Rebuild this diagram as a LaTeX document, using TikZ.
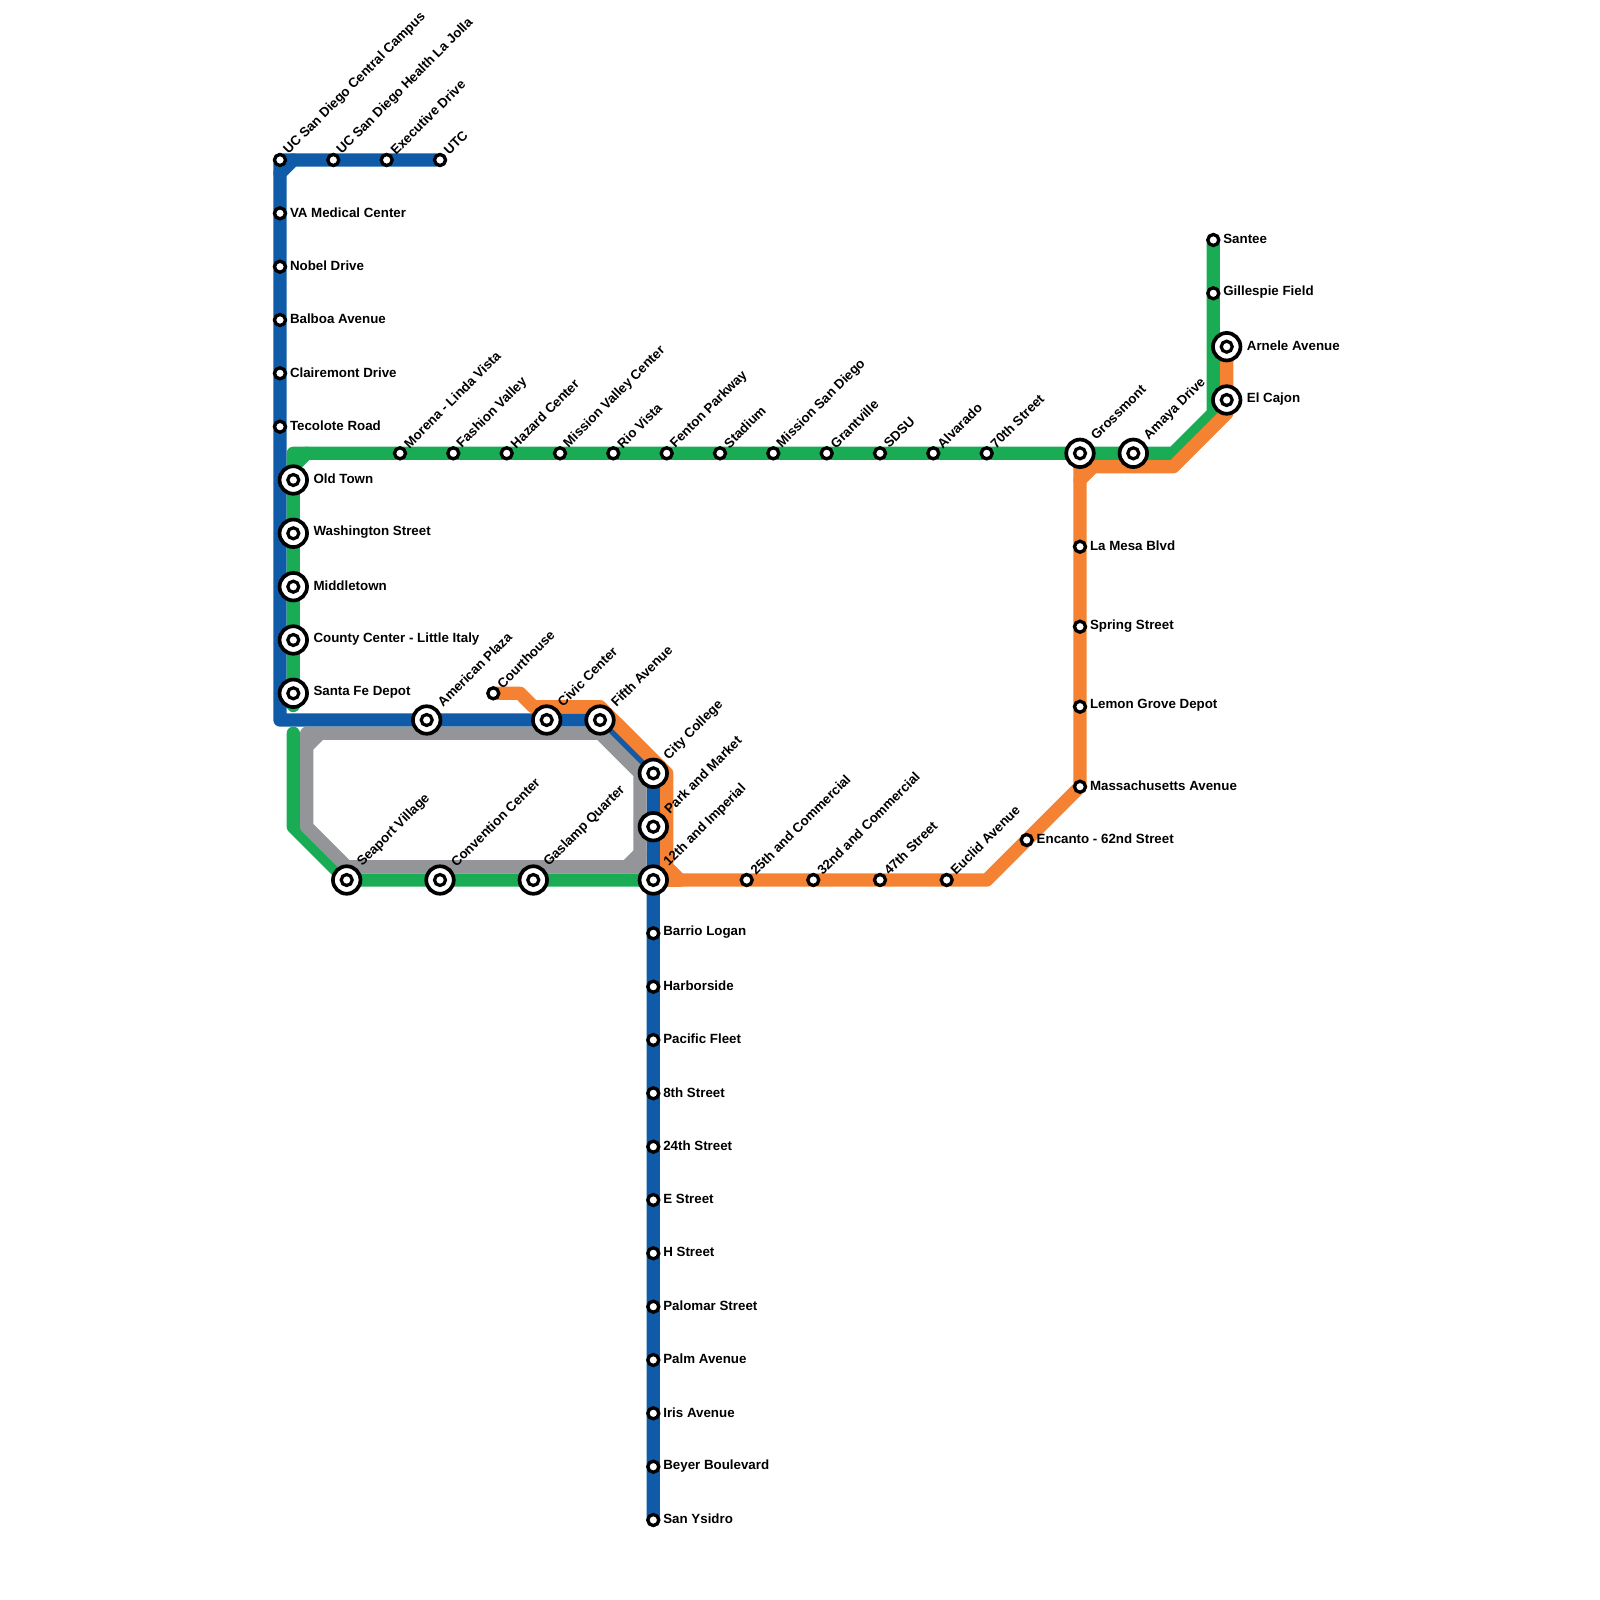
\documentclass[tikz,border=0pt]{standalone}
\usepackage{fontspec}
\setmainfont{Liberation Sans}
\usepackage{xcolor}
\usetikzlibrary{backgrounds}
\definecolor{MTS_Blue}{HTML}{0F5BA7}
\definecolor{MTS_Green}{HTML}{1AAC55}
\definecolor{MTS_Orange}{HTML}{F58233}
\definecolor{MTS_Grey}{HTML}{939598}
\tikzset{
    trackline/.style={line width=13.33pt, line cap=round, line join=round},
    smallstop/.style={circle, draw=black, fill=white, line width=3.3pt, minimum size=11pt, inner sep=0pt, outer sep=0pt},
    bigstop/.style={circle, draw=black, fill=white, line width=3.7pt, minimum size=27.5pt, inner sep=0pt, outer sep=0pt,
        path picture={\draw[line width=3.2pt] (path picture bounding box.center) circle (5.5pt);}},
    stoptext/.style={font=\bfseries\fontsize{13.33}{15}\selectfont, inner sep=0pt, text=black},
    sidetext/.style={stoptext, anchor=west, xshift=9.8pt, yshift=1pt},
    sidetextbig/.style={stoptext, anchor=west, xshift=20pt, yshift=1pt},
    uptext/.style={stoptext, anchor=west, xshift=6pt, yshift=7.5pt, rotate=45},
    uptextbig/.style={stoptext, anchor=west, xshift=13pt, yshift=15.5pt, rotate=45},
}
\begin{document}
\begin{tikzpicture}[x=1pt, y=-1pt]
    \useasboundingbox (0,0) rectangle (1600,1600);

    % North end of the blue line
    \node[smallstop] (ucsd) at (280,160) {};       \node[uptext] (ucsdt) at (ucsd) {UC San Diego Central Campus};
    \node[smallstop] (lajolla) at (333.3,160) {};  \node[uptext] (lajollat) at (lajolla) {UC San Diego Health La Jolla};
    \node[smallstop] (executive) at (386.7,160) {}; \node[uptext] (executivet) at (executive) {Executive Drive};
    \node[smallstop] (utc) at (440,160) {};        \node[uptext] (utct) at (utc) {UTC};
    \node[smallstop] (vamed) at (280,213.3) {};    \node[sidetext] (vamedt) at (vamed) {VA Medical Center};
    \node[smallstop] (nobel) at (280,266.7) {};    \node[sidetext] (nobelt) at (nobel) {Nobel Drive};
    \node[smallstop] (balboa) at (280,320) {};     \node[sidetext] (balboat) at (balboa) {Balboa Avenue};
    \node[smallstop] (clairemont) at (280,373.3) {}; \node[sidetext] (clairemontt) at (clairemont) {Clairemont Drive};
    \node[smallstop] (tecolote) at (280,426.7) {}; \node[sidetext] (tecolotet) at (tecolote) {Tecolote Road};

    % Old Town down to Santa Fe Depot
    \node[bigstop] (oldtown) at (293.3,480) {};    \node[sidetextbig] (oldtownt) at (oldtown) {Old Town};
    \node[bigstop] (washington) at (293.3,533.3) {}; \node[sidetextbig] (washingtont) at (washington) {Washington Street};
    \node[bigstop] (middletown) at (293.3,586.7) {}; \node[sidetextbig] (middletownt) at (middletown) {Middletown};
    \node[bigstop] (county) at (293.3,640) {};     \node[sidetextbig] (countyt) at (county) {County Center - Little Italy};
    \node[bigstop] (santafe) at (293.3,693.3) {};  \node[sidetextbig] (santafet) at (santafe) {Santa Fe Depot};

    % Mission Valley row
    \node[smallstop] (morena) at (400,453.3) {};   \node[uptext] (morenat) at (morena) {Morena - Linda Vista};
    \node[smallstop] (fashion) at (453.3,453.3) {}; \node[uptext] (fashiont) at (fashion) {Fashion Valley};
    \node[smallstop] (hazard) at (506.7,453.3) {}; \node[uptext] (hazardt) at (hazard) {Hazard Center};
    \node[smallstop] (mvcenter) at (560,453.3) {}; \node[uptext] (mvcentert) at (mvcenter) {Mission Valley Center};
    \node[smallstop] (riovista) at (613.3,453.3) {}; \node[uptext] (riovistat) at (riovista) {Rio Vista};
    \node[smallstop] (fenton) at (666.7,453.3) {}; \node[uptext] (fentont) at (fenton) {Fenton Parkway};
    \node[smallstop] (stadium) at (720,453.3) {};  \node[uptext] (stadiumt) at (stadium) {Stadium};
    \node[smallstop] (msd) at (773.3,453.3) {};    \node[uptext] (msdt) at (msd) {Mission San Diego};
    \node[smallstop] (grantville) at (826.7,453.3) {}; \node[uptext] (grantvillet) at (grantville) {Grantville};
    \node[smallstop] (sdsu) at (880,453.3) {};     \node[uptext] (sdsut) at (sdsu) {SDSU};
    \node[smallstop] (alvarado) at (933.3,453.3) {}; \node[uptext] (alvaradot) at (alvarado) {Alvarado};
    \node[smallstop] (seventieth) at (986.7,453.3) {}; \node[uptext] (seventietht) at (seventieth) {70th Street};
    \node[bigstop] (grossmont) at (1080,453.3) {}; \node[uptextbig] (grossmontt) at (grossmont) {Grossmont};
    \node[bigstop] (amaya) at (1133.3,453.3) {};   \node[uptextbig] (amayat) at (amaya) {Amaya Drive};

    % East end
    \node[smallstop] (santee) at (1213.3,240) {};  \node[sidetext] (santeet) at (santee) {Santee};
    \node[smallstop] (gillespie) at (1213.3,293.3) {}; \node[sidetext] (gillespiet) at (gillespie) {Gillespie Field};
    \node[bigstop] (arnele) at (1226.7,346.7) {};  \node[sidetextbig] (arnelet) at (arnele) {Arnele Avenue};
    \node[bigstop] (elcajon) at (1226.7,400) {};   \node[sidetextbig] (elcajont) at (elcajon) {El Cajon};

    % La Mesa branch
    \node[smallstop] (lamesa) at (1080,546.7) {};  \node[sidetext] (lamesat) at (lamesa) {La Mesa Blvd};
    \node[smallstop] (spring) at (1080,626.7) {};  \node[sidetext] (springt) at (spring) {Spring Street};
    \node[smallstop] (lemon) at (1080,706.7) {};   \node[sidetext] (lemont) at (lemon) {Lemon Grove Depot};
    \node[smallstop] (mass) at (1080,786.7) {};    \node[sidetext] (masst) at (mass) {Massachusetts Avenue};
    \node[smallstop] (encanto) at (1026.7,840) {}; \node[sidetext] (encantot) at (encanto) {Encanto - 62nd Street};

    % Downtown
    \node[bigstop] (america) at (426.7,720) {};    \node[uptextbig] (americat) at (america) {American Plaza};
    \node[smallstop] (courthouse) at (493.3,693.3) {}; \node[uptext] (courthouset) at (courthouse) {Courthouse};
    \node[bigstop] (civic) at (546.7,720) {};      \node[uptextbig] (civict) at (civic) {Civic Center};
    \node[bigstop] (fifth) at (600,720) {};        \node[uptextbig] (fiftht) at (fifth) {Fifth Avenue};
    \node[bigstop] (citycollege) at (653.3,773.3) {}; \node[uptextbig] (citycollegec) at (citycollege) {City College};
    \node[bigstop] (parkmarket) at (653.3,826.7) {}; \node[uptextbig] (parkmarkett) at (parkmarket) {Park and Market};
    \node[bigstop] (imperial) at (653.3,880) {};   \node[uptextbig] (imperialt) at (imperial) {12th and Imperial};
    \node[bigstop] (seaport) at (346.7,880) {};    \node[uptextbig] (seaportt) at (seaport) {Seaport Village};
    \node[bigstop] (convention) at (440,880) {};   \node[uptextbig] (conventiont) at (convention) {Convention Center};
    \node[bigstop] (gaslamp) at (533.3,880) {};    \node[uptextbig] (gaslampt) at (gaslamp) {Gaslamp Quarter};

    % Orange row east of Imperial
    \node[smallstop] (twentyfifth) at (746.7,880) {}; \node[uptext] (twentyfiftht) at (twentyfifth) {25th and Commercial};
    \node[smallstop] (thirtysecond) at (813.3,880) {}; \node[uptext] (thirtysecondt) at (thirtysecond) {32nd and Commercial};
    \node[smallstop] (fortyseventh) at (880,880) {}; \node[uptext] (fortyseventht) at (fortyseventh) {47th Street};
    \node[smallstop] (euclid) at (946.7,880) {};   \node[uptext] (euclidt) at (euclid) {Euclid Avenue};

    % South Bay
    \node[smallstop] (barrio) at (653.3,933.3) {}; \node[sidetext] (barriot) at (barrio) {Barrio Logan};
    \node[smallstop] (harborside) at (653.3,986.7) {}; \node[sidetext] (harborsidet) at (harborside) {Harborside};
    \node[smallstop] (pacific) at (653.3,1040) {}; \node[sidetext] (pacifict) at (pacific) {Pacific Fleet};
    \node[smallstop] (eighth) at (653.3,1093.3) {}; \node[sidetext] (eightht) at (eighth) {8th Street};
    \node[smallstop] (twentyfourth) at (653.3,1146.7) {}; \node[sidetext] (twentyfourtht) at (twentyfourth) {24th Street};
    \node[smallstop] (estreet) at (653.3,1200) {}; \node[sidetext] (estreett) at (estreet) {E Street};
    \node[smallstop] (hstreet) at (653.3,1253.3) {}; \node[sidetext] (hstreett) at (hstreet) {H Street};
    \node[smallstop] (palomar) at (653.3,1306.7) {}; \node[sidetext] (palomart) at (palomar) {Palomar Street};
    \node[smallstop] (palm) at (653.3,1360) {};    \node[sidetext] (palmt) at (palm) {Palm Avenue};
    \node[smallstop] (iris) at (653.3,1413.3) {};  \node[sidetext] (irist) at (iris) {Iris Avenue};
    \node[smallstop] (beyer) at (653.3,1466.7) {}; \node[sidetext] (beyert) at (beyer) {Beyer Boulevard};
    \node[smallstop] (ysidro) at (653.3,1520) {};  \node[sidetext] (ysidrot) at (ysidro) {San Ysidro};

    % Bends of the lines
    \coordinate (bluecorner) at (280,720);
    \coordinate (bluecutA) at (280,173.3);
    \coordinate (bluecutB) at (293.3,160);
    \coordinate (greentop) at (293.3,453.3);
    \coordinate (greencutA) at (293.3,466.7);
    \coordinate (greencutB) at (306.7,453.3);
    \coordinate (greenend) at (293.3,705.5);
    \coordinate (greenstart) at (293.3,733.3);
    \coordinate (greenbend) at (293.3,826.7);
    \coordinate (greeneastA) at (1173.3,453.3);
    \coordinate (greeneastB) at (1213.3,413.3);
    \coordinate (greytl) at (306.7,733.3);
    \coordinate (greycutA) at (306.7,746.7);
    \coordinate (greycutB) at (320,733.3);
    \coordinate (greytr) at (600,733.3);
    \coordinate (greyr) at (640,773.3);
    \coordinate (greybr) at (640,866.7);
    \coordinate (greycutC) at (640,853.3);
    \coordinate (greycutD) at (626.7,866.7);
    \coordinate (greybl) at (346.7,866.7);
    \coordinate (greyl) at (306.7,826.7);
    \coordinate (orangeA) at (520,693.3);
    \coordinate (orangeB) at (533.3,706.7);
    \coordinate (orangeC) at (600,706.7);
    \coordinate (orangeD) at (666.7,773.3);
    \coordinate (orangeE) at (666.7,866.7);
    \coordinate (orangeF) at (680,880);
    \coordinate (orangeG) at (986.7,880);
    \coordinate (orangeH) at (1080,466.7);
    \coordinate (orangeJ) at (1080,480);
    \coordinate (orangeK) at (1093.3,466.7);
    \coordinate (orangeL) at (1173.3,466.7);
    \coordinate (orangeM) at (1226.7,413.3);

    \begin{pgfonlayer}{background}
        % Blue line
        \draw[trackline, MTS_Blue] (utc.center) -- (ucsd.center) -- (bluecorner) -- (fifth.center) -- (citycollege.center) -- (ysidro.center);
        \draw[trackline, MTS_Blue] (bluecutA) -- (bluecutB);
        % Green line
        \draw[trackline, MTS_Green] (greenend) -- (greentop) -- (greeneastA) -- (greeneastB) -- (santee.center);
        \draw[trackline, MTS_Green] (greencutA) -- (greencutB);
        \draw[trackline, MTS_Green] (greenstart) -- (greenbend) -- (seaport.center) -- (imperial.center);
        % Silver loop
        \draw[trackline, MTS_Grey] (greybr) -- (greyr) -- (greytr) -- (greytl) -- (greyl) -- (greybl) -- cycle;
        \draw[trackline, MTS_Grey] (greycutA) -- (greycutB);
        \draw[trackline, MTS_Grey] (greycutC) -- (greycutD);
        % Orange line
        \draw[trackline, MTS_Orange] (courthouse.center) -- (orangeA) -- (orangeB) -- (orangeC) -- (orangeD) -- (orangeE) -- (orangeF) -- (orangeG) -- (mass.center) -- (orangeH) -- (orangeL) -- (orangeM) -- (arnele.center);
        \draw[trackline, MTS_Orange] (orangeJ) -- (orangeK);
        \draw[trackline, MTS_Orange] (imperial.center) -- (orangeF);
    \end{pgfonlayer}
\end{tikzpicture}
\end{document}
